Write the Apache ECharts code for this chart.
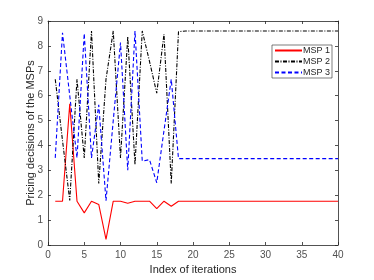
<!DOCTYPE html>
<html><head><meta charset="utf-8">
<script src="https://cdn.jsdelivr.net/npm/echarts@6/dist/echarts.min.js"></script>
<style>html,body{margin:0;padding:0;background:#fff}#c{width:374px;height:280px}</style>
</head><body><div id="c"></div>
<script>
const iterations = [];
for (let i = 1; i <= 40; i++) iterations.push(i);
const msp1Head = [1.76,1.76,5.67,1.76,1.29,1.76,1.63,0.23,1.76,1.76,1.68,1.76,1.76,1.76,1.46,1.76,1.56,1.76];
const msp2Head = [6.66,4.2,1.79,6.66,3.5,8.6,2.47,6.66,8.6,3.5,8.37,3.23,8.6,7.38,6.1,8.48,2.47,8.57];
const msp3Head = [3.5,8.53,6.0,3.5,8.5,3.5,5.63,1.78,5.0,8.13,3.0,8.6,3.37,3.43,2.5,4.6,6.66,3.47];
const msp1Tail = 1.76, msp2Tail = 8.6, msp3Tail = 3.47;
const xTicks = [0,5,10,15,20,25,30,35,40];
const yTicks = [0,1,2,3,4,5,6,7,8,9];

function full(head, tail){
  return iterations.map((x, k) => [x, k < head.length ? head[k] : tail]);
}
const axisCol = '#262626';
const font = 'Liberation Sans, Arial, sans-serif';
const chart = echarts.init(document.getElementById('c'), null, {renderer:'canvas'});
const baseX = {type:'value', min:xTicks[0], max:xTicks[xTicks.length-1], interval:5,
  axisLine:{show:true,onZero:false,lineStyle:{color:axisCol,width:0.8}},
  axisTick:{show:true,inside:true,length:3,lineStyle:{color:axisCol,width:0.8}},
  splitLine:{show:false}};
const baseY = {type:'value', min:yTicks[0], max:yTicks[yTicks.length-1], interval:1,
  axisLine:{show:true,onZero:false,lineStyle:{color:axisCol,width:0.8}},
  axisTick:{show:true,inside:true,length:3,lineStyle:{color:axisCol,width:0.8}},
  splitLine:{show:false}};
chart.setOption({
  animation:false,
  backgroundColor:'#fff',
  grid:{left:48,right:36,top:21,bottom:32,containLabel:false},
  xAxis:[
    Object.assign({}, baseX, {position:'bottom', name:'Index of iterations', nameLocation:'middle', nameGap:19,
      nameMoveOverlap:false,
      nameTextStyle:{fontFamily:font,fontSize:11,color:axisCol},
      axisLabel:{fontFamily:font,fontSize:10,color:'#505050',margin:5}}),
    Object.assign({}, baseX, {position:'top', axisLabel:{show:false}})
  ],
  yAxis:[
    Object.assign({}, baseY, {position:'left', name:'Pricing decisions of the MSPs', nameLocation:'middle', nameGap:12,
      nameMoveOverlap:false,
      nameTextStyle:{fontFamily:font,fontSize:11,color:axisCol},
      axisLabel:{fontFamily:font,fontSize:10,color:'#505050',margin:5}}),
    Object.assign({}, baseY, {position:'right', axisLabel:{show:false}})
  ],
  legend:{
    right:42, top:45, orient:'vertical', itemWidth:27, itemHeight:8, itemGap:2,
    backgroundColor:'#fff', borderColor:axisCol, borderWidth:0.6, padding:[1,2,1,2],
    itemStyle:{opacity:0},
    textStyle:{fontFamily:font,fontSize:9,color:axisCol,padding:[0,0,0,-4]},
    data:['MSP 1','MSP 2','MSP 3']
  },
  series:[
    {name:'MSP 1', type:'line', data:full(msp1Head, msp1Tail), symbol:'none', color:'#ff0000',
      lineStyle:{color:'#ff0000',width:1.1}},
    {name:'MSP 2', type:'line', data:full(msp2Head, msp2Tail), symbol:'none', color:'#000000',
      lineStyle:{color:'#000000',width:1.1,type:[4,1.5,1,1.5]}},
    {name:'MSP 3', type:'line', data:full(msp3Head, msp3Tail), symbol:'none', color:'#0000ff',
      lineStyle:{color:'#0000ff',width:1.1,type:[4,2.5]}}
  ]
});
</script></body></html>
